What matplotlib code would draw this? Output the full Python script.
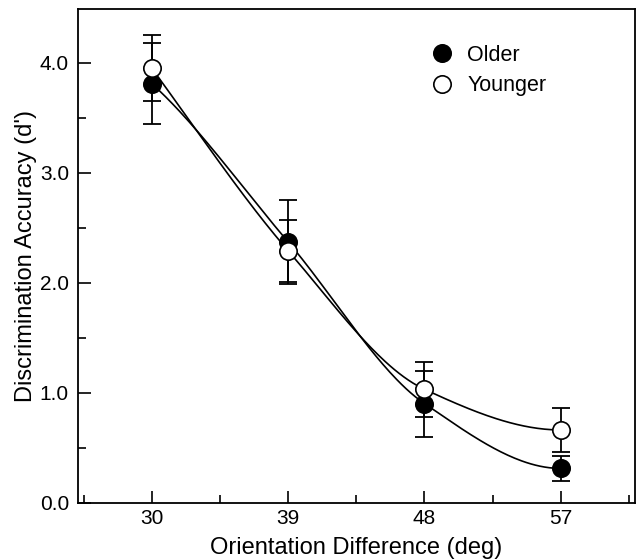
import matplotlib
matplotlib.use('Agg')
import matplotlib.pyplot as plt
import numpy as np
from matplotlib.ticker import MultipleLocator, FixedLocator

plt.rcParams['font.family'] = ['Liberation Sans', 'DejaVu Sans']

orientation = [30, 39, 48, 57]
older = [3.81, 2.37, 0.90, 0.31]
older_err = [0.37, 0.38, 0.30, 0.11]
younger = [3.95, 2.29, 1.03, 0.66]
younger_err = [0.30, 0.28, 0.25, 0.20]


def smooth_curve(x, y, n=60):
    # monotone cubic hermite through the group means;
    # end slopes taken from the cubic fit, zeroed if they turn back
    x = np.asarray(x, float)
    y = np.asarray(y, float)
    h = np.diff(x)
    d = np.diff(y) / h
    m = np.zeros_like(y)
    for k in range(1, len(x) - 1):
        if d[k - 1] * d[k] > 0:
            w1 = 2 * h[k] + h[k - 1]
            w2 = h[k] + 2 * h[k - 1]
            m[k] = (w1 + w2) / (w1 / d[k - 1] + w2 / d[k])
    dpoly = np.polyder(np.polyfit(x, y, 3))
    for k, dk in [(0, d[0]), (-1, d[-1])]:
        mk = np.polyval(dpoly, x[k])
        m[k] = mk if mk * dk > 0 else 0.0
    xs, ys = [], []
    for k in range(len(h)):
        s = np.linspace(0, 1, n)
        h00 = 2 * s**3 - 3 * s**2 + 1
        h10 = s**3 - 2 * s**2 + s
        h01 = -2 * s**3 + 3 * s**2
        h11 = s**3 - s**2
        xs.append(x[k] + s * h[k])
        ys.append(h00 * y[k] + h10 * h[k] * m[k] + h01 * y[k + 1] + h11 * h[k] * m[k + 1])
    return np.concatenate(xs), np.concatenate(ys)


fig = plt.figure(figsize=(6.36, 5.6), dpi=100)
ax = fig.add_axes([78 / 636, 1 - 502.5 / 560, 557 / 636, 493.5 / 560])

for vals in [older, younger]:
    xs, ys = smooth_curve(orientation, vals)
    ax.plot(xs, ys, color='black', lw=1.2, zorder=2)

ax.errorbar(orientation, older, yerr=older_err, fmt='none', ecolor='black',
            elinewidth=1.3, capsize=6.5, capthick=1.3, zorder=3)
ax.errorbar(orientation, younger, yerr=younger_err, fmt='none', ecolor='black',
            elinewidth=1.3, capsize=6.5, capthick=1.3, zorder=3)

ax.plot(orientation, older, ls='none', marker='o', ms=12.5, mfc='black',
        mec='black', mew=1.2, label='Older', zorder=4)
ax.plot(orientation, younger, ls='none', marker='o', ms=12.5, mfc='white',
        mec='black', mew=1.2, label='Younger', zorder=5)

ax.set_xlim(25.12, 61.9)
ax.set_ylim(0, 4.49)
ax.set_xticks(orientation)
minor_x = [o - 4.5 for o in orientation] + [orientation[-1] + 4.5]
ax.xaxis.set_minor_locator(FixedLocator(minor_x))
ax.yaxis.set_major_locator(MultipleLocator(1.0))
ax.yaxis.set_minor_locator(MultipleLocator(0.5))
ax.set_yticklabels(['{:.1f}'.format(v) for v in ax.get_yticks()])
ax.tick_params(which='both', direction='in', labelsize=15, width=1.2)
ax.tick_params(which='major', length=9)
ax.tick_params(which='minor', length=6)
ax.tick_params(axis='y', pad=6.5)
ax.tick_params(axis='x', pad=5)

for sp in ax.spines.values():
    sp.set_linewidth(1.3)

ax.set_xlabel('Orientation Difference (deg)', fontsize=17, labelpad=6)
ax.set_ylabel("Discrimination Accuracy (d')", fontsize=17, labelpad=2)

ax.legend(loc='upper left', bbox_to_anchor=(0.60, 0.945), frameon=False,
          fontsize=15.5, handletextpad=0.15, labelspacing=0.45, borderaxespad=0)

fig.savefig('out.png', dpi=100)
